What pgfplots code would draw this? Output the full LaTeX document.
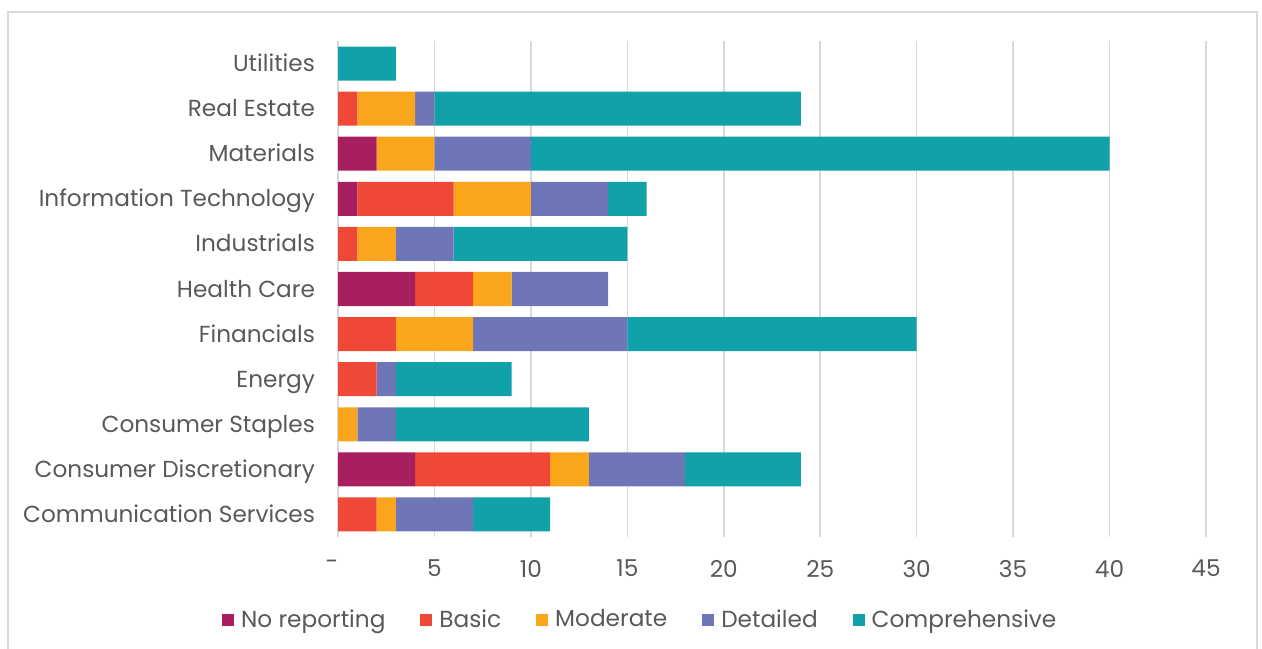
\documentclass[border=0pt]{standalone}
\usepackage{pgfplots}
\pgfplotsset{compat=1.18}
\usepackage{fontspec}
\setmainfont{Poppins}
\definecolor{cNo}{HTML}{A81F60}
\definecolor{cBa}{HTML}{F04836}
\definecolor{cMo}{HTML}{F9A61C}
\definecolor{cDe}{HTML}{6E76B7}
\definecolor{cCo}{HTML}{10A2A8}
\definecolor{txt}{HTML}{595959}
\definecolor{grd}{HTML}{D9D9D9}
\begin{document}
\begin{tikzpicture}
\path[use as bounding box] (0,0) rectangle (631pt,324pt);
\draw[grd, line width=0.8pt] (4pt,-10pt) -- (4pt,318pt) -- (628.5pt,318pt) -- (628.5pt,-10pt);
\begin{axis}[
  at={(169pt,55.5pt)}, anchor=south west,
  scale only axis, width=434pt, height=248pt,
  xbar stacked, bar width=17pt,
  xmin=0, xmax=45, ymin=-0.5, ymax=10.5,
  xtick={0,5,...,45},
  xticklabels={{\makebox[0pt]{-\hspace*{6pt}}},5,10,15,20,25,30,35,40,45},
  ytick={0,...,10},
  yticklabels={Communication Services,Consumer Discretionary,Consumer Staples,Energy,Financials,Health Care,Industrials,Information Technology,Materials,Real Estate,Utilities},
  xmajorgrids, grid style={grd, line width=0.8pt},
  axis line style={draw=none},
  major tick length=0pt,
  tick label style={font=\fontsize{11.6}{13}\selectfont, text=txt},
  xticklabel style={yshift=-8pt},
  yticklabel style={xshift=-8pt, text height=8.5pt, text depth=0.5pt},
  legend columns=5,
  legend style={at={(0.3494,-0.167)}, anchor=center, draw=none, fill=none,
    font=\fontsize{11.6}{13}\selectfont, text=txt,
    /tikz/every even column/.append style={column sep=15.5pt}},
  legend image code/.code={\fill (0pt,-3pt) rectangle (6pt,3pt); \path (7.5pt,0pt);},
]
\addplot[fill=cNo, draw=none] coordinates {(0,0) (4,1) (0,2) (0,3) (0,4) (4,5) (0,6) (1,7) (2,8) (0,9) (0,10)};
\addplot[fill=cBa, draw=none] coordinates {(2,0) (7,1) (0,2) (2,3) (3,4) (3,5) (1,6) (5,7) (0,8) (1,9) (0,10)};
\addplot[fill=cMo, draw=none] coordinates {(1,0) (2,1) (1,2) (0,3) (4,4) (2,5) (2,6) (4,7) (3,8) (3,9) (0,10)};
\addplot[fill=cDe, draw=none] coordinates {(4,0) (5,1) (2,2) (1,3) (8,4) (5,5) (3,6) (4,7) (5,8) (1,9) (0,10)};
\addplot[fill=cCo, draw=none] coordinates {(4,0) (6,1) (10,2) (6,3) (15,4) (0,5) (9,6) (2,7) (30,8) (19,9) (3,10)};
\legend{No reporting,Basic,Moderate,Detailed,Comprehensive}
\end{axis}
\end{tikzpicture}
\end{document}
